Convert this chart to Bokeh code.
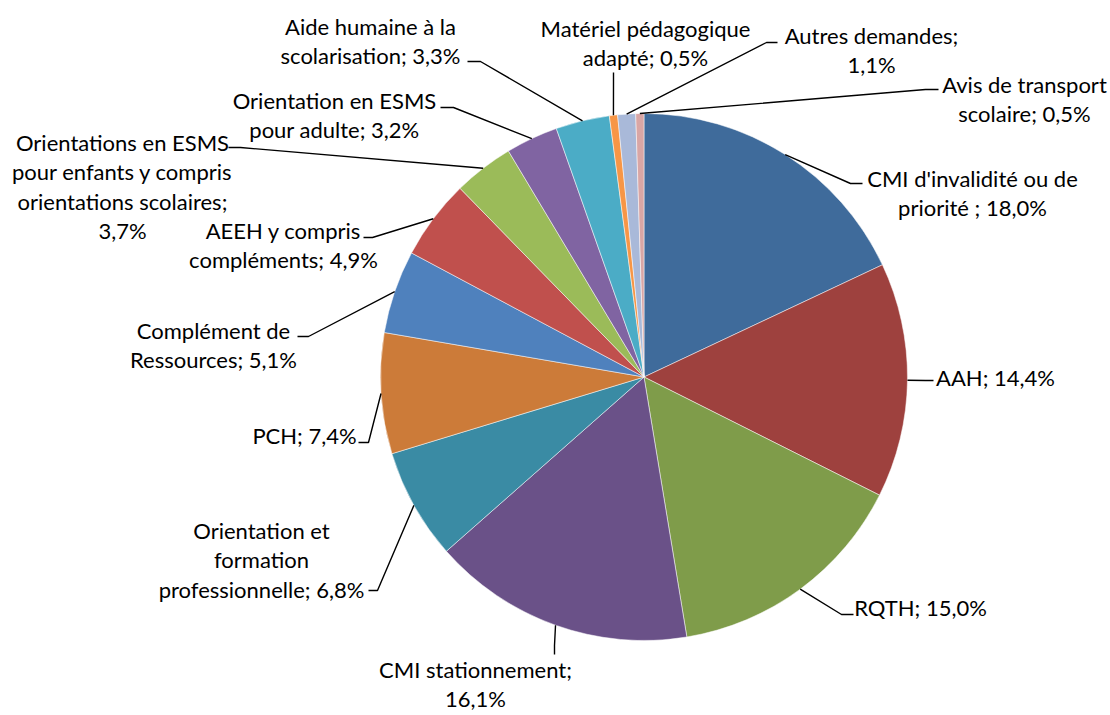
import math
from bokeh.plotting import figure
from bokeh.models import Range1d, ColumnDataSource
from bokeh.core.properties import value
from bokeh.embed import file_html
from bokeh.resources import INLINE

# ---------------- data ----------------
categories = [
    "CMI d'invalidité ou de priorité ",
    "AAH",
    "RQTH",
    "CMI stationnement",
    "Orientation et formation professionnelle",
    "PCH",
    "Complément de Ressources",
    "AEEH y compris compléments",
    "Orientations en ESMS pour enfants y compris orientations scolaires",
    "Orientation en ESMS pour adulte",
    "Aide humaine à la scolarisation",
    "Matériel pédagogique adapté",
    "Autres demandes",
    "Avis de transport scolaire",
]
percentages = [18.0, 14.4, 15.0, 16.1, 6.8, 7.4, 5.1, 4.9, 3.7, 3.2, 3.3, 0.5, 1.1, 0.5]

# ---------------- styles / layout ----------------
colors = ["#3F6B9B", "#9E413E", "#7F9C4A", "#6A5188", "#3A8BA4", "#CC7B39",
          "#4F81BD", "#C0504D", "#9BBB59", "#8064A2", "#4BACC6", "#F79646",
          "#A9B9D9", "#D9A6A5"]
words_per_line = [[4, 3], [2], [2], [2, 1], [2, 1, 2], [2], [2, 2], [3, 2],
                  [3, 4, 2, 1], [3, 3], [4, 2], [2, 2], [2, 1], [3, 2]]
label_x = [972, 995, 920, 475, 261, 304, 213, 283, 122, 334, 370, 645, 871, 1024]
label_y = [178, 377, 607, 669, 530, 435, 330, 230, 142, 100, 26, 28, 35, 84]
knee_x = [850, 925, 841, 554, 377, 368, 308, 372, 240, 453, 480, 613, 766, 925]
knee_y = [183, 380, 614, 645, 590, 442, 336, 237, 147, 107, 61, 80, 42, 89]
end_x = [862, 933, 853, 554, 368, 358, 297, 363, 228, 440, 467, 613, 777, 938]
end_y = [183, 380, 614, 654, 590, 442, 336, 237, 147, 107, 61, 72, 42, 89]
LINE_STEP = 29.3
CX, CY, R = 643.5, 376.5, 263.5

W, H = 1110, 715
p = figure(width=W, height=H, x_range=Range1d(0, W), y_range=Range1d(-H, 0),
           output_backend="svg", toolbar_location=None, min_border=0,
           x_axis_location=None, y_axis_location=None)
p.grid.visible = False
p.outline_line_color = None
p.background_fill_color = "white"

total = sum(percentages)
starts, ends, mids = [], [], []
cum = 0.0
for v in percentages:
    f0 = cum / total
    cum += v
    f1 = cum / total
    starts.append(math.pi / 2 - 2 * math.pi * f0)
    ends.append(math.pi / 2 - 2 * math.pi * f1)
    mids.append(2 * math.pi * (f0 + f1) / 2)

src = ColumnDataSource(dict(start=starts, end=ends, color=colors, cat=categories, val=percentages))
p.wedge(x=CX, y=-CY, radius=R, start_angle="start", end_angle="end", direction="clock",
        fill_color="color", line_color="white", line_width=0.5, source=src)

# leader lines
xs, ys = [], []
for i, th in enumerate(mids):
    sx = CX + R * math.sin(th)
    sy = CY - R * math.cos(th)
    xs.append([sx, knee_x[i], end_x[i]])
    ys.append([-sy, -knee_y[i], -end_y[i]])
p.multi_line(xs=xs, ys=ys, line_color="black", line_width=1.4)

# labels
tx, ty, tt = [], [], []
for i, (name, v) in enumerate(zip(categories, percentages)):
    label = f"{name}; " + f"{v:.1f}".replace(".", ",") + "%"
    words = label.split(" ")
    k = 0
    for j, n in enumerate(words_per_line[i]):
        line = " ".join(words[k:k + n])
        k += n
        tx.append(label_x[i])
        ty.append(-(label_y[i] + j * LINE_STEP))
        tt.append(line)
p.text(x=tx, y=ty, text=tt, text_font=value("Lato"), text_font_size="22px",
       text_align="center", text_baseline="middle", text_color="#000000")

open("out.html", "w").write(file_html(p, INLINE))
